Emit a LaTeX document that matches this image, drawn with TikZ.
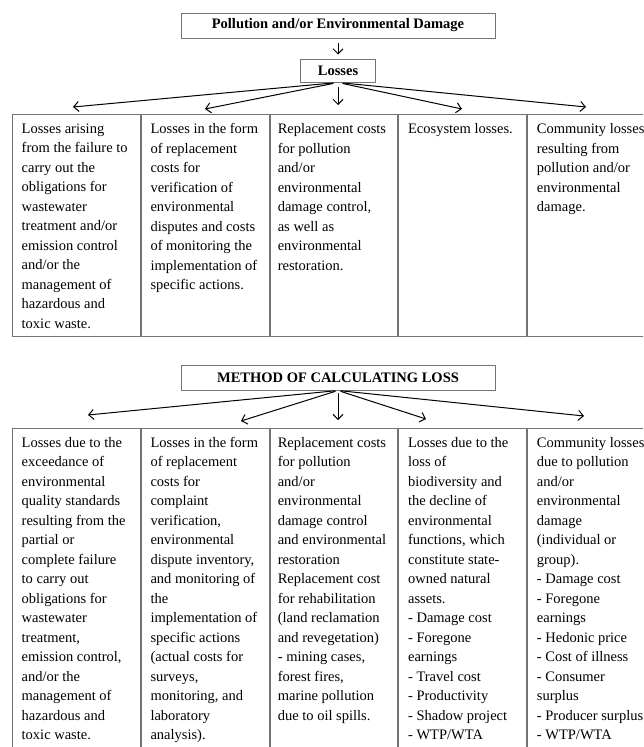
\documentclass[tikz,border=0pt]{standalone}
\usepackage{fontspec}
\setmainfont{Liberation Serif}
\usetikzlibrary{arrows.meta}
\usetikzlibrary{positioning}

\tikzset{
  frame/.style={draw=black!55, line width=1pt, inner sep=0pt},
  cell/.style={frame, anchor=north west, minimum width=127.8pt, minimum height=#1},
  head/.style={frame, minimum height=25pt, font=\fontsize{14.5}{17}\selectfont\bfseries},
  txt/.style={anchor=north west, inner sep=0pt, align=left, font=\fontsize{14.5}{19.5}\selectfont},
  link/.style={->, line width=1pt},
}

\begin{document}
\begin{tikzpicture}[line cap=round,line join=round,>={Straight Barb[length=5pt,width=10pt]},x=1pt,y=1pt]
\useasboundingbox (0,0) rectangle (643,-747);
\clip (0,0) rectangle (643,-747);
% losses
\node [head, minimum width=314pt] (pol) at (338,-25.5) {Pollution and/or Environmental Damage};
\node [head, minimum width=75pt, minimum height=23pt] (loss) at (338,-70.5) {Losses};
\draw [link, shorten <=5pt, shorten >=4pt] (pol) -- (loss);
\coordinate (t1) at (73,-107);
\coordinate (t2) at (205,-109);
\coordinate (t3) at (338,-105);
\coordinate (t4) at (462,-109);
\coordinate (t5) at (586,-107);
\foreach \i in {1,...,5} \draw [link, shorten <=5pt] (loss.south) -- (t\i);
\node [cell=222pt] (a1) at (12,-114) {};
\node [cell=222pt] (a2) at (a1.north east) {};
\node [cell=222pt] (a3) at (a2.north east) {};
\node [cell=222pt] (a4) at (a3.north east) {};
\node [cell=222pt] (a5) at (a4.north east) {};
\node [txt, below right=9.5pt and 9.5pt of a1.north west] (a1t) {Losses arising\\from the failure to\\carry out the\\obligations for\\wastewater\\treatment and/or\\emission control\\and/or the\\management of\\hazardous and\\toxic waste.};
\node [txt, below right=9.5pt and 9.5pt of a2.north west] (a2t) {Losses in the form\\of replacement\\costs for\\verification of\\environmental\\disputes and costs\\of monitoring the\\implementation of\\specific actions.};
\node [txt, below right=9.5pt and 8pt of a3.north west] (a3t) {Replacement costs\\for pollution\\and/or\\environmental\\damage control,\\as well as\\environmental\\restoration.};
\node [txt, below right=9.5pt and 9.5pt of a4.north west] (a4t) {Ecosystem losses.};
\node [txt, below right=9.5pt and 9.5pt of a5.north west] (a5t) {Community losses\\resulting from\\pollution and/or\\environmental\\damage.};
% method
\node [head, minimum width=314pt] (meth) at (338,-377.5) {METHOD OF CALCULATING LOSS};
\coordinate (u1) at (88,-415);
\coordinate (u2) at (241,-421);
\coordinate (u3) at (338,-420);
\coordinate (u4) at (426,-419);
\coordinate (u5) at (584,-416);
\foreach \i in {1,...,5} \draw [link, shorten <=3pt] (meth.south) -- (u\i);
\node [cell=400pt] (b1) at (12,-428) {};
\node [cell=400pt] (b2) at (b1.north east) {};
\node [cell=400pt] (b3) at (b2.north east) {};
\node [cell=400pt] (b4) at (b3.north east) {};
\node [cell=400pt] (b5) at (b4.north east) {};
\node [txt, below right=9pt and 9.5pt of b1.north west] (b1t) {Losses due to the\\exceedance of\\environmental\\quality standards\\resulting from the\\partial or\\complete failure\\to carry out\\obligations for\\wastewater\\treatment,\\emission control,\\and/or the\\management of\\hazardous and\\toxic waste.};
\node [txt, below right=9pt and 9.5pt of b2.north west] (b2t) {Losses in the form\\of replacement\\costs for\\complaint\\verification,\\environmental\\dispute inventory,\\and monitoring of\\the\\implementation of\\specific actions\\(actual costs for\\surveys,\\monitoring, and\\laboratory\\analysis).};
\node [txt, below right=9pt and 8pt of b3.north west] (b3t) {Replacement costs\\for pollution\\and/or\\environmental\\damage control\\and environmental\\restoration\\Replacement cost\\for rehabilitation\\(land reclamation\\and revegetation)\\- mining cases,\\forest fires,\\marine pollution\\due to oil spills.};
\node [txt, below right=9pt and 9.5pt of b4.north west] (b4t) {Losses due to the\\loss of\\biodiversity and\\the decline of\\environmental\\functions, which\\constitute state-\\owned natural\\assets.\\- Damage cost\\- Foregone\\earnings\\- Travel cost\\- Productivity\\- Shadow project\\- WTP/WTA};
\node [txt, below right=9pt and 9.5pt of b5.north west] (b5t) {Community losses\\due to pollution\\and/or\\environmental\\damage\\(individual or\\group).\\- Damage cost\\- Foregone\\earnings\\- Hedonic price\\- Cost of illness\\- Consumer\\surplus\\- Producer surplus\\- WTP/WTA};
\end{tikzpicture}
\end{document}
